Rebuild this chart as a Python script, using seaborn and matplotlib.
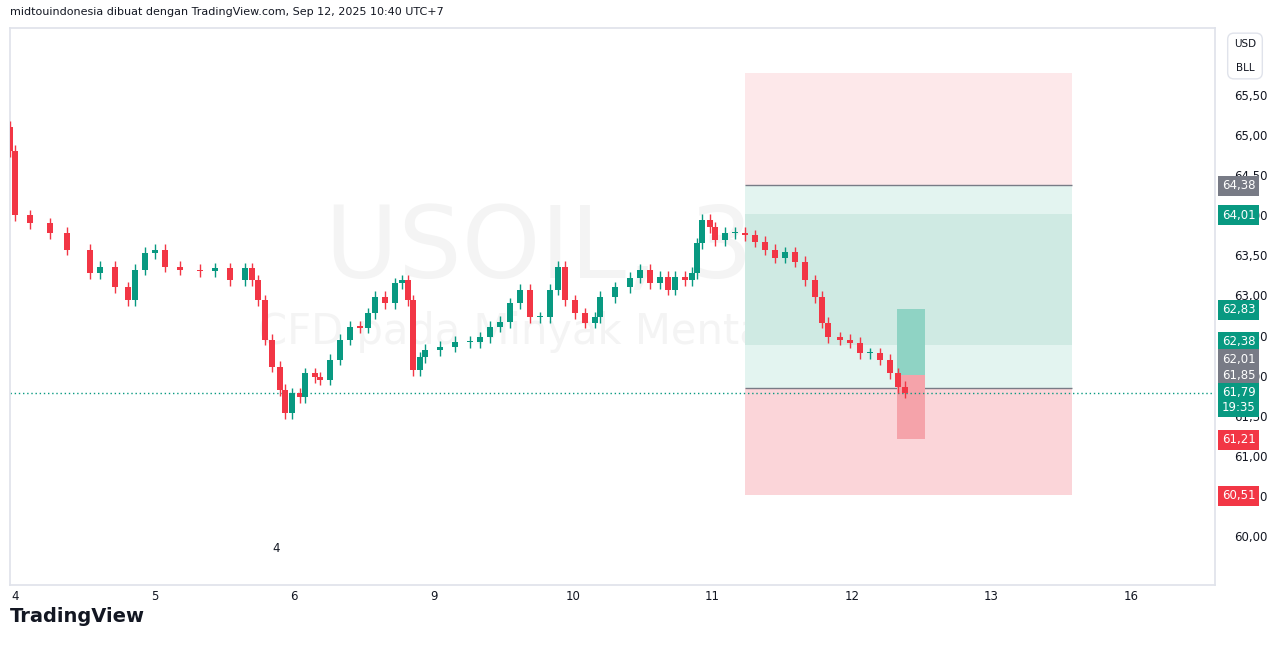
import matplotlib
matplotlib.use("Agg")
import matplotlib.pyplot as plt
import seaborn as sns
import numpy as np
from matplotlib.patches import Rectangle

sns.set_theme(style="white")
plt.rcParams['font.family'] = ['DejaVu Sans']

# candle x positions (pixel-estimated, converted to day-slot units) and closes
px = [10, 15, 30, 50, 67, 90, 100, 115, 128, 135, 145, 155, 165, 180, 200, 215, 230, 245, 252, 258,
      265, 272, 280, 285, 292, 300, 305, 315, 320, 330, 340, 350, 360, 368, 375, 385, 395, 402, 408, 413,
      420, 425, 440, 455, 470, 480, 490, 500, 510, 520, 530, 540, 550, 558, 565, 575, 585, 595, 600, 615,
      630, 640, 650, 660, 668, 675, 685, 692, 697, 702, 710, 715, 725, 735, 745, 755, 765, 775, 785, 795,
      805, 815, 822, 828, 840, 850, 860, 870, 880, 890, 898, 905]
closes = [64.80, 64.00, 63.90, 63.78, 63.57, 63.28, 63.36, 63.10, 62.94, 63.32, 63.53, 63.57, 63.36, 63.32, 63.30, 63.34, 63.19, 63.34, 63.19, 62.94,
          62.45, 62.11, 61.82, 61.53, 61.78, 61.73, 62.03, 61.98, 61.95, 62.20, 62.45, 62.61, 62.60, 62.78, 62.98, 62.90, 63.15, 63.19, 62.94, 62.07,
          62.23, 62.32, 62.36, 62.42, 62.42, 62.48, 62.61, 62.67, 62.90, 63.07, 62.73, 62.73, 63.07, 63.36, 62.94, 62.78, 62.66, 62.73, 62.98, 63.10,
          63.22, 63.32, 63.15, 63.23, 63.07, 63.23, 63.19, 63.28, 63.65, 63.94, 63.85, 63.69, 63.78, 63.78, 63.75, 63.67, 63.57, 63.47, 63.54, 63.42,
          63.19, 62.98, 62.66, 62.48, 62.45, 62.41, 62.28, 62.28, 62.20, 62.03, 61.86, 61.79]
day_labels = ["4", "5", "6", "9", "10", "11", "12", "13", "16"]
price_ticks = [60.0, 60.5, 61.0, 61.5, 62.0, 62.5, 63.0, 63.5, 64.0, 64.5, 65.0, 65.5]
# position tool levels
tp_top, stop_top, tp_level, entry, sl_low = 65.78, 64.38, 64.01, 61.85, 60.51
tp_inner_low = 62.38
bar_hi, bar_mid, bar_lo = 62.83, 62.01, 61.21
last_price = 61.79

GREEN, RED = "#089981", "#f23645"
xs = [(p - 15) / 139.5 for p in px]

fig = plt.figure(figsize=(12.81, 6.46), dpi=100)
ax = fig.add_axes([10/1281, 61/646, 1205/1281, 557/646])
ax.set_xlim(-0.036, 8.602)
ax.set_ylim(59.39, 66.335)

# watermark
ax.text(0.465, 0.60, "USOIL, 30", transform=ax.transAxes, ha="center", va="center",
        fontsize=72, color="#f4f4f4", zorder=0)
ax.text(0.465, 0.455, "CFD pada Minyak Mentah WTI", transform=ax.transAxes, ha="center", va="center",
        fontsize=30, color="#f4f4f4", zorder=0)

# position tool
x0, x1 = (745-15)/139.5, (1072-15)/139.5
ax.add_patch(Rectangle((x0, stop_top), x1-x0, tp_top-stop_top, color="#fde8ea", zorder=1, lw=0))
ax.add_patch(Rectangle((x0, entry), x1-x0, stop_top-entry, color="#e3f4f0", zorder=1, lw=0))
ax.add_patch(Rectangle((x0, tp_inner_low), x1-x0, tp_level-tp_inner_low, color="#cfeae3", zorder=1, lw=0))
ax.add_patch(Rectangle((x0, sl_low), x1-x0, entry-sl_low, color="#fbd5d9", zorder=1, lw=0))
ax.hlines([stop_top, entry], x0, x1, colors="#787b86", lw=1, zorder=2)
bx0, bx1 = (897-15)/139.5, (925-15)/139.5
ax.add_patch(Rectangle((bx0, bar_mid), bx1-bx0, bar_hi-bar_mid, color="#8fd3c4", zorder=2, lw=0))
ax.add_patch(Rectangle((bx0, bar_lo), bx1-bx0, bar_mid-bar_lo, color="#f5a3aa", zorder=2, lw=0))

# candles
opens = [closes[0] + 0.3] + closes[:-1]
w = 0.04
for x, o, c in zip(xs, opens, closes):
    col = GREEN if c >= o else RED
    ax.vlines(x, min(o, c) - 0.07, max(o, c) + 0.07, color=col, lw=1, zorder=3)
    ax.add_patch(Rectangle((x - w/2, min(o, c)), w, max(abs(c - o), 0.015), color=col, zorder=3, lw=0))

ax.axhline(last_price, color=GREEN, lw=1, ls=(0, (1, 2)), zorder=2)

ax.set_xticks(range(len(day_labels)))
ax.set_xticklabels(day_labels)
ax.yaxis.tick_right()
ax.set_yticks(price_ticks)
ax.set_yticklabels([f"{v:.2f}".replace(".", ",") for v in price_ticks])
ax.tick_params(axis="both", length=0, labelsize=8.5, colors="#131722")
ax.tick_params(axis="y", pad=14)
for s in ax.spines.values():
    s.set_color("#e0e3eb")
fig.text(276/1281, 1-549/646, "4", fontsize=8.5, ha="center", va="center", color="#131722")

# price labels (figure-level so they sit above tick labels)
labels = [(64.38, "64,38", "#787b86"), (64.01, "64,01", GREEN), (62.83, "62,83", GREEN),
          (62.38, "62,38", GREEN), (62.01, "62,01", "#787b86"), (61.85, "61,85", "#787b86"),
          (61.79, "61,79\n19:35", GREEN), (61.21, "61,21", RED), (60.51, "60,51", RED)]
ypix = {64.38: 186, 64.01: 215, 62.83: 310, 62.38: 342, 62.01: 359, 61.85: 375, 61.79: 400,
        61.21: 440, 60.51: 496}
for v, t, c in labels:
    fig.text(1222/1281, 1-ypix[v]/646, t, ha="left", va="center",
             fontsize=8.5, color="white", zorder=6, linespacing=1.15,
             bbox=dict(boxstyle="square,pad=0.3", fc=c, ec="none"))

fig.text(1245/1281, 1-56/646, "USD\n\nBLL", ha="center", va="center", fontsize=7.5, color="#131722",
         bbox=dict(boxstyle="round,pad=0.6", fc="white", ec="#e0e3eb"))
fig.text(10/1281, 1-12/646, "midtouindonesia dibuat dengan TradingView.com, Sep 12, 2025 10:40 UTC+7",
         fontsize=8, va="center", color="#131722")
fig.text(10/1281, 1-616/646, "TradingView", fontsize=14, fontweight="bold", va="center", color="#131722")
fig.savefig("out.png", dpi=100)
